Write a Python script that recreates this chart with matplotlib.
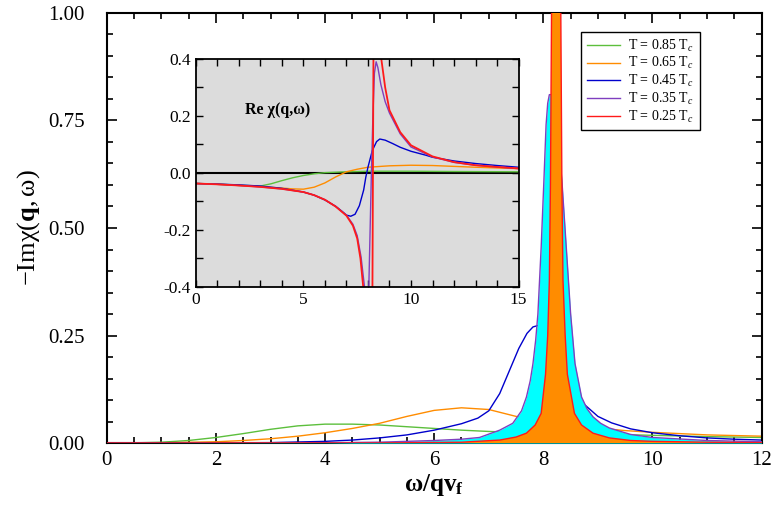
import numpy as np
from matplotlib import pyplot as plt
from matplotlib.ticker import MultipleLocator

plt.rcParams.update({'font.family': 'Liberation Serif',
                     'mathtext.fontset': 'custom',
                     'mathtext.rm': 'Liberation Serif',
                     'mathtext.it': 'Liberation Serif:italic',
                     'mathtext.bf': 'Liberation Serif:bold'})

# colors
GREEN = "#5cbf3c"
ORANGE = "#ff8c00"
BLUE = "#0000cc"
PURPLE = "#7f3fbf"
RED = "#ff1a1a"
CYAN = "#00ffff"

labels = ['T = 0.85 T$_c$', 'T = 0.65 T$_c$', 'T = 0.45 T$_c$', 'T = 0.35 T$_c$', 'T = 0.25 T$_c$']

# -Im chi(q, w), main panel
im_x_085 = [0, 0.5, 1, 1.5, 2, 2.5, 3, 3.5, 4, 4.5, 5, 5.5, 6, 6.5, 7, 7.5, 8, 9, 10, 11, 12]
im_y_085 = [0, 0.0005, 0.002, 0.006, 0.013, 0.022, 0.032, 0.040, 0.044, 0.044, 0.042, 0.038, 0.034,
            0.030, 0.027, 0.025, 0.024, 0.021, 0.018, 0.015, 0.013]

im_x_065 = [0, 1, 2, 2.5, 3, 3.5, 4, 4.5, 5, 5.5, 6, 6.5, 7, 7.5, 8, 8.5, 9, 9.5, 10, 11, 12]
im_y_065 = [0, 0.0005, 0.003, 0.006, 0.010, 0.016, 0.024, 0.034, 0.046, 0.062, 0.076, 0.082, 0.078,
            0.062, 0.050, 0.041, 0.035, 0.029, 0.025, 0.019, 0.016]

im_x_045 = [0, 2, 3, 4, 4.5, 5, 5.5, 6, 6.5, 6.8, 7.0, 7.2, 7.35, 7.55, 7.7, 7.81, 7.95, 8.1, 8.25,
            8.45, 8.66, 9.0, 9.25, 9.6, 10, 10.5, 11, 11.5, 12]
im_y_045 = [0, 0.0005, 0.001, 0.004, 0.007, 0.012, 0.019, 0.030, 0.045, 0.058, 0.075, 0.115, 0.16,
            0.22, 0.255, 0.27, 0.275, 0.23, 0.17, 0.13, 0.10, 0.062, 0.047, 0.033, 0.024, 0.017,
            0.012, 0.009, 0.007]

im_x_035 = [0, 4, 5, 6, 6.5, 6.83, 7.2, 7.44, 7.6, 7.69, 7.76, 7.81, 7.86, 7.90, 7.96, 8.01, 8.05,
            8.08, 8.11, 8.15, 8.20, 8.25, 8.34, 8.42, 8.50, 8.58, 8.70, 8.8, 8.91, 9.05, 9.21, 9.6,
            10, 11, 12]
im_y_035 = [0, 0.0005, 0.002, 0.006, 0.009, 0.013, 0.030, 0.046, 0.075, 0.107, 0.145, 0.185, 0.24,
            0.30, 0.455, 0.61, 0.74, 0.79, 0.81, 0.81, 0.79, 0.74, 0.61, 0.455, 0.30, 0.185, 0.107,
            0.080, 0.061, 0.046, 0.035, 0.020, 0.013, 0.006, 0.003]

im_x_025 = [0, 5, 6.5, 7.2, 7.5, 7.69, 7.85, 7.96, 8.04, 8.08, 8.11, 8.13, 8.15, 8.19, 8.24, 8.29,
            8.32, 8.34, 8.36, 8.40, 8.44, 8.57, 8.7, 8.91, 9.21, 9.6, 10, 11, 12]
im_y_025 = [0, 0.0002, 0.002, 0.007, 0.014, 0.023, 0.042, 0.069, 0.16, 0.25, 0.378, 0.6, 1.0, 2.0,
            4.0, 2.0, 1.0, 0.6, 0.378, 0.25, 0.16, 0.069, 0.042, 0.023, 0.012, 0.006, 0.004, 0.002,
            0.001]

# Re chi(q, w), inset
re_x_085 = [0, 1, 2, 3, 3.5, 4, 4.5, 5, 5.5, 6, 7, 8, 9, 10, 12, 15]
re_y_085 = [-0.037, -0.039, -0.043, -0.046, -0.038, -0.027, -0.017, -0.009, -0.003, 0.001, 0.004,
            0.006, 0.006, 0.006, 0.005, 0.004]

re_x_065 = [0, 1, 2, 3, 4, 4.5, 5, 5.5, 6, 6.5, 7, 7.5, 8, 9, 10, 11, 12, 13, 15]
re_y_065 = [-0.037, -0.040, -0.044, -0.048, -0.053, -0.056, -0.057, -0.050, -0.035, -0.014, 0.004,
            0.013, 0.020, 0.025, 0.027, 0.026, 0.023, 0.020, 0.015]

re_x_045 = [0, 1, 2, 3, 4, 5, 5.5, 6, 6.5, 6.8, 7.0, 7.2, 7.4, 7.6, 7.8, 7.9, 8.0, 8.2, 8.4, 8.55,
            8.8, 9.15, 9.5, 10, 10.7, 11, 12, 13, 14, 15]
re_y_045 = [-0.037, -0.039, -0.042, -0.046, -0.054, -0.067, -0.078, -0.095, -0.117, -0.135, -0.148,
            -0.152, -0.145, -0.115, -0.060, -0.015, 0.020, 0.078, 0.110, 0.119, 0.115, 0.103, 0.090,
            0.076, 0.062, 0.055, 0.042, 0.033, 0.026, 0.020]

re_x_035 = [0, 1, 2, 3, 4, 5, 5.5, 6, 6.5, 7, 7.3, 7.5, 7.68, 7.84, 7.92, 8.0, 8.04, 8.10, 8.16,
            8.23, 8.30, 8.38, 8.46, 8.6, 8.8, 9.0, 9.5, 10, 11, 12, 13, 14, 15]
re_y_035 = [-0.037, -0.040, -0.044, -0.049, -0.056, -0.067, -0.078, -0.094, -0.118, -0.148, -0.180,
            -0.220, -0.295, -0.40, -0.47, -0.45, -0.40, -0.20, 0.0, 0.20, 0.35, 0.39, 0.37, 0.31,
            0.25, 0.21, 0.137, 0.091, 0.056, 0.037, 0.027, 0.021, 0.015]

re_x_025 = [0, 1, 2, 3, 4, 5, 5.5, 6, 6.5, 7, 7.3, 7.5, 7.65, 7.78, 7.9, 8.05, 8.18, 8.22, 8.26,
            8.32, 8.42, 8.55, 8.62, 8.8, 9.0, 9.5, 10, 11, 12, 13, 14, 15]
re_y_025 = [-0.037, -0.040, -0.044, -0.049, -0.056, -0.067, -0.078, -0.094, -0.118, -0.150, -0.185,
            -0.230, -0.300, -0.400, -0.60, -1.0, -0.9, -0.2, 0.5, 0.9, 0.8, 0.5, 0.40, 0.30, 0.22,
            0.143, 0.097, 0.058, 0.038, 0.027, 0.021, 0.016]

fig = plt.figure(figsize=(7.74, 5.17), dpi=100)
ax = fig.add_axes([0.138, 0.143, 0.846, 0.832])

lw = 1.0
h1, = ax.plot(im_x_085, im_y_085, color=GREEN, lw=lw, zorder=2)
h2, = ax.plot(im_x_065, im_y_065, color=ORANGE, lw=lw, zorder=2)
h3, = ax.plot(im_x_045, im_y_045, color=BLUE, lw=lw, zorder=2)
ax.fill_between(im_x_035, im_y_035, 0, color=CYAN, lw=0, zorder=3)
h4, = ax.plot(im_x_035, im_y_035, color=PURPLE, lw=lw, zorder=4)
ax.fill_between(im_x_025, im_y_025, 0, color=ORANGE, lw=0, zorder=5)
h5, = ax.plot(im_x_025, im_y_025, color=RED, lw=lw, zorder=6)

ax.set_xlim(0, 12)
ax.set_ylim(0, 1.0)
ax.xaxis.set_major_locator(MultipleLocator(2))
ax.xaxis.set_minor_locator(MultipleLocator(0.5))
ax.yaxis.set_major_locator(MultipleLocator(0.25))
ax.yaxis.set_minor_locator(MultipleLocator(0.05))
ax.yaxis.set_major_formatter(lambda v, p: f"{v:.2f}")
ax.tick_params(which='both', direction='in', top=True, right=True, labelsize=15, width=1.2)
ax.tick_params(which='major', length=7)
ax.tick_params(which='minor', length=4)
ax.tick_params(axis='y', pad=16)
ax.tick_params(axis='x', pad=6)
for s in ax.spines.values():
    s.set_linewidth(1.5)
ax.set_xlabel(r'$\mathbf{\omega/qv_f}$', fontsize=18, labelpad=1)
ax.set_ylabel(r'$-\mathrm{Im}\mathrm{\chi}(\mathbf{q},\mathrm{\omega})$', fontsize=19, labelpad=4)

leg = fig.legend([h1, h2, h3, h4, h5], labels, loc='upper right', bbox_to_anchor=(0.904, 0.938),
                 fontsize=10, fancybox=False, edgecolor='black', framealpha=1, borderaxespad=0,
                 handlelength=2.4, labelspacing=0.12, borderpad=0.4, handletextpad=0.6)
leg.get_frame().set_linewidth(1.0)

# inset with the real part
ins = fig.add_axes([0.253, 0.445, 0.417, 0.441])
ins.set_facecolor('#dcdcdc')
ins.axhline(0, color='black', lw=1.5, zorder=1)
ins.plot(re_x_085, re_y_085, color=GREEN, lw=lw)
ins.plot(re_x_065, re_y_065, color=ORANGE, lw=lw)
ins.plot(re_x_045, re_y_045, color=BLUE, lw=lw)
ins.plot(re_x_035, re_y_035, color=PURPLE, lw=lw)
ins.plot(re_x_025, re_y_025, color=RED, lw=1.3)
ins.set_xlim(0, 15)
ins.set_ylim(-0.4, 0.4)
ins.xaxis.set_major_locator(MultipleLocator(5))
ins.xaxis.set_minor_locator(MultipleLocator(1))
ins.yaxis.set_major_locator(MultipleLocator(0.2))
ins.yaxis.set_minor_locator(MultipleLocator(0.1))
ins.yaxis.set_major_formatter(lambda v, p: f"{v:.1f}")
ins.tick_params(which='both', direction='in', top=True, right=True, labelsize=12.5, width=1.0)
ins.tick_params(which='major', length=5)
ins.tick_params(which='minor', length=5)
for s in ins.spines.values():
    s.set_linewidth(1.3)
ins.text(2.3, 0.22, 'Re χ(q,ω)', fontsize=11.5, fontweight='bold', ha='left', va='center')

fig.savefig('out.png', dpi=100)
